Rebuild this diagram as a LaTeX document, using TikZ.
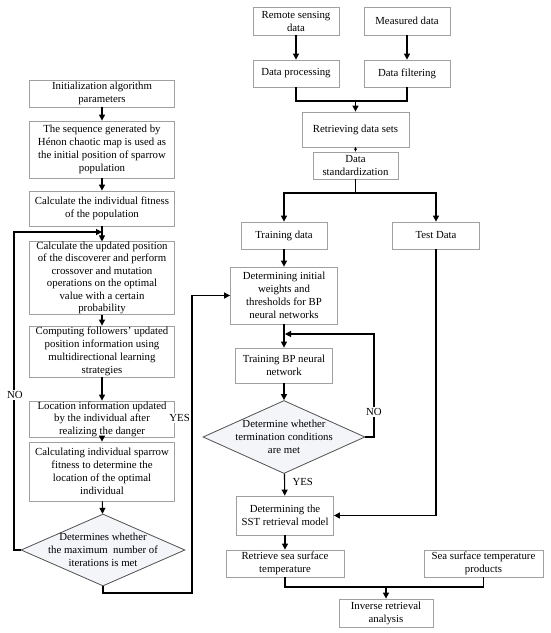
\documentclass[tikz,border=0pt]{standalone}
\usepackage{fontspec}
\setmainfont{Liberation Serif}
\usepackage{tikz}
\usetikzlibrary{shapes, arrows.meta, calc, positioning, shapes.geometric}

\definecolor{boxline}{HTML}{A0A0A0}
\definecolor{decline}{HTML}{505050}
\definecolor{decfill}{HTML}{F3F5F9}

\begin{document}
\begin{tikzpicture}[x=1pt, y=-1pt,
        font=\fontsize{10.8}{13}\selectfont,
        box/.style={draw=boxline, fill=white, line width=0.8pt, align=center, inner sep=1pt},
        dec/.style={draw=decline, fill=decfill, line width=0.8pt, diamond, inner sep=0pt},
        arr/.style={line width=1.1pt, -{Triangle[length=6pt, width=6pt]}},
        ln/.style={line width=1.1pt},
        lbl/.style={fill=white, inner sep=1pt}]

    \useasboundingbox (0,0) rectangle (550,633);

    % left column: sparrow search
    \node[box, minimum width=145pt, minimum height=27pt] (init) at (102,93.5) {Initialization algorithm\\parameters};
    \node[box, minimum width=145pt, minimum height=57pt] (seq) at (102,149.5) {The sequence generated by\\Hénon chaotic map is used as\\the initial position of sparrow\\population};
    \node[box, minimum width=145pt, minimum height=35pt] (fit) at (102,208.5) {Calculate the individual fitness\\of the population};
    \node[box, minimum width=145pt, minimum height=70pt, inner sep=0pt, font=\fontsize{10.8}{12.5}\selectfont] (upd) at (102,278) {Calculate the updated position\\of the discoverer and perform\\crossover and mutation\\operations on the optimal\\value with a certain\\probability};
    \node[box, minimum width=145pt, minimum height=51pt] (fol) at (102,351.5) {Computing followers' updated\\position information using\\multidirectional learning\\strategies};
    \node[box, minimum width=145pt, minimum height=36pt, inner sep=0pt, font=\fontsize{10.8}{12.5}\selectfont] (loc) at (102,419) {Location information updated\\by the individual after\\realizing the danger};
    \node[box, minimum width=145pt, minimum height=59pt] (cal) at (102,471.5) {Calculating individual sparrow\\fitness to determine the\\location of the optimal\\individual};
    \node[dec, minimum width=164pt, minimum height=72pt] (dia1) at (103,550) {};
    \node[align=center] (dia1txt) at (103,550) {Determines whether\\the maximum\ \ number of\\iterations is met};

    \coordinate (n1) at (14,232);
    \coordinate (m1) at (102,232);
    \coordinate (y1) at (192,593);

    \draw[arr] (init) -- (seq);
    \draw[arr] (seq) -- (fit);
    \draw[arr] (fit) -- (upd);
    \draw[arr] (upd) -- (fol);
    \draw[arr] (fol) -- (loc);
    \draw[arr] (loc) -- (cal);
    \draw[arr] (cal) -- (dia1);
    \draw[arr] (dia1.west) -| (n1) -- (m1);
    \node[lbl] (no1) at (15,395) {NO};

    % right column: BP network
    \node[box, minimum width=86pt, minimum height=28pt] (rs) at (296,21) {Remote sensing\\data};
    \node[box, minimum width=86pt, minimum height=28pt] (md) at (407,21) {Measured data};
    \node[box, minimum width=86pt, minimum height=27pt] (dp) at (296,73.5) {Data processing};
    \node[box, minimum width=86pt, minimum height=27pt] (df) at (407,73.5) {Data filtering};
    \node[box, minimum width=107pt, minimum height=35pt] (rds) at (355.5,129.5) {Retrieving data sets};
    \node[box, minimum width=85pt, minimum height=27pt] (ds) at (355.5,165.5) {Data\\standardization};
    \node[box, minimum width=86pt, minimum height=27pt] (td) at (284,235.5) {Training data};
    \node[box, minimum width=87pt, minimum height=27pt] (test) at (436,235.5) {Test Data};
    \node[box, minimum width=107pt, minimum height=57pt] (diw) at (284,295.5) {Determining initial\\weights and\\thresholds for BP\\neural networks};
    \node[box, minimum width=97pt, minimum height=35pt] (tbp) at (284,365.5) {Training BP neural\\network};
    \node[dec, minimum width=162pt, minimum height=73pt] (dia2) at (284,437) {};
    \node[align=center] (dia2txt) at (284,437) {Determine whether\\termination conditions\\are met};
    \node[box, minimum width=97pt, minimum height=39pt] (sst) at (285,515.5) {Determining the\\SST retrieval model};
    \node[box, minimum width=118pt, minimum height=27pt] (rsst) at (285,563.5) {Retrieve sea surface\\temperature};
    \node[box, minimum width=119pt, minimum height=27pt] (sstp) at (483.5,563.5) {Sea surface temperature\\products};
    \node[box, minimum width=94pt, minimum height=28pt] (ira) at (386,613) {Inverse retrieval\\analysis};

    \coordinate (j1) at (355.5,101);
    \coordinate (j2) at (355.5,193);
    \coordinate (n2) at (374,334);
    \coordinate (m2) at (285,334);
    \coordinate (j3) at (386,587);

    \draw[arr] (dia1.south) |- (y1) |- (diw.west);
    \node[lbl, anchor=east] (yes1) at (191,418) {YES};

    \draw[arr] (rs) -- (dp);
    \draw[arr] (md) -- (df);
    \draw[ln] (dp.south) |- (j1) -| (df.south);
    \draw[arr] (j1) -- (rds);
    \draw[ln, -{Triangle[length=3pt, width=3pt]}] (rds) -- (ds);
    \draw[ln] (ds) -- (j2);
    \draw[arr] (j2) -| (td.north);
    \draw[arr] (j2) -| (test.north);
    \draw[arr] (td) -- (diw);
    \draw[arr] (diw) -- (tbp);
    \draw[arr] (tbp) -- (dia2);
    \draw[arr] (dia2.east) -| (n2) -- (m2);
    \draw[arr] (dia2) -- (sst);
    \draw[arr] (test.south) |- (sst.east);
    \draw[arr] (sst) -- (rsst);
    \draw[ln] (rsst.south) |- (j3) -| (sstp.south);
    \draw[arr] (j3) -- (ira);
    \node[lbl] (no2) at (374,412) {NO};
    \node[anchor=west] (yes2) at (289,482) {YES};

\end{tikzpicture}
\end{document}
